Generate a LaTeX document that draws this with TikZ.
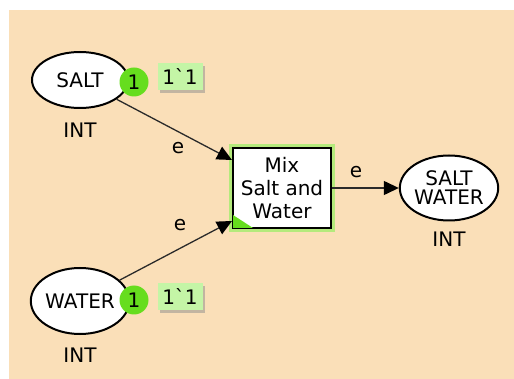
\documentclass[tikz,border=0pt]{standalone}
\usepackage{fontspec}
\setmainfont{DejaVu Sans}
\usetikzlibrary{shapes.geometric,arrows.meta,shadows}

\definecolor{canvastan}{HTML}{FADFB8}
\definecolor{tokengreen}{HTML}{66DD1E}
\definecolor{markgreen}{HTML}{C4F5A6}
\definecolor{glowgreen}{HTML}{B4EA7C}
\definecolor{arcgray}{HTML}{2A2A2A}

\tikzset{
  txt/.style={font=\fontsize{20}{23}\selectfont},
  place/.style={ellipse, draw=black, line width=2pt, fill=white,
    inner sep=0pt, align=center, txt},
  token/.style={circle, fill=tokengreen, minimum size=29pt, inner sep=0pt, txt},
  marking/.style={fill=markgreen, minimum width=45pt, minimum height=27pt,
    inner sep=0pt, txt,
    drop shadow={shadow xshift=2.5pt, shadow yshift=-2.5pt, fill=black!45, opacity=0.5}},
  trans/.style={rectangle, draw=black, line width=2pt, fill=white,
    minimum width=98pt, minimum height=80pt, align=center, txt,
    preaction={draw=glowgreen, line width=8pt}},
  arc/.style={draw=arcgray, line width=1.3pt,
    -{Triangle[length=15pt,width=14pt,color=black]}},
  inscr/.style={txt, inner sep=1pt},
}

\begin{document}
\begin{tikzpicture}[x=1pt,y=-1pt]
  \useasboundingbox (0,0) rectangle (514,379);
  \fill[canvastan] (9,10) rectangle (514,379);

  % places
  \node[place, minimum width=96pt, minimum height=56pt] (salt) at (80,80) {SALT};
  \node[place, minimum width=96pt, minimum height=66pt] (water) at (80,301) {WATER};
  \node[place, minimum width=98pt, minimum height=65pt] (sw) at (449,188) {SALT\\[-4pt]WATER};

  % colour sets
  \node[inscr] (salttype) at (80,130) {INT};
  \node[inscr] (watertype) at (80,355) {INT};
  \node[inscr] (swtype) at (449,239) {INT};

  % transition
  \node[trans] (mix) at (282,188) {Mix\\Salt and\\Water};
  \fill[tokengreen] ([shift={(1,-1)}]mix.south west) -- ++(20,0) -- ++(-20,-13) -- cycle;

  % arcs
  \coordinate (mixin1) at ([yshift=28pt]mix.west);
  \coordinate (mixin2) at ([yshift=-33pt]mix.west);
  \draw[arc] (salt) -- (mixin1);
  \draw[arc] (water) -- (mixin2);
  \draw[arc] (mix) -- (sw);
  \node[inscr] (e1) at (178,148) {e};
  \node[inscr] (e2) at (180,225) {e};
  \node[inscr] (e3) at (356,172) {e};

  % markings
  \node[token] (salttok) at (134,82) {1};
  \node[token] (watertok) at (134,300) {1};
  \node[marking] (saltmark) at (180,77) {1\textasciigrave 1};
  \node[marking] (watermark) at (180,297) {1\textasciigrave 1};
\end{tikzpicture}
\end{document}
